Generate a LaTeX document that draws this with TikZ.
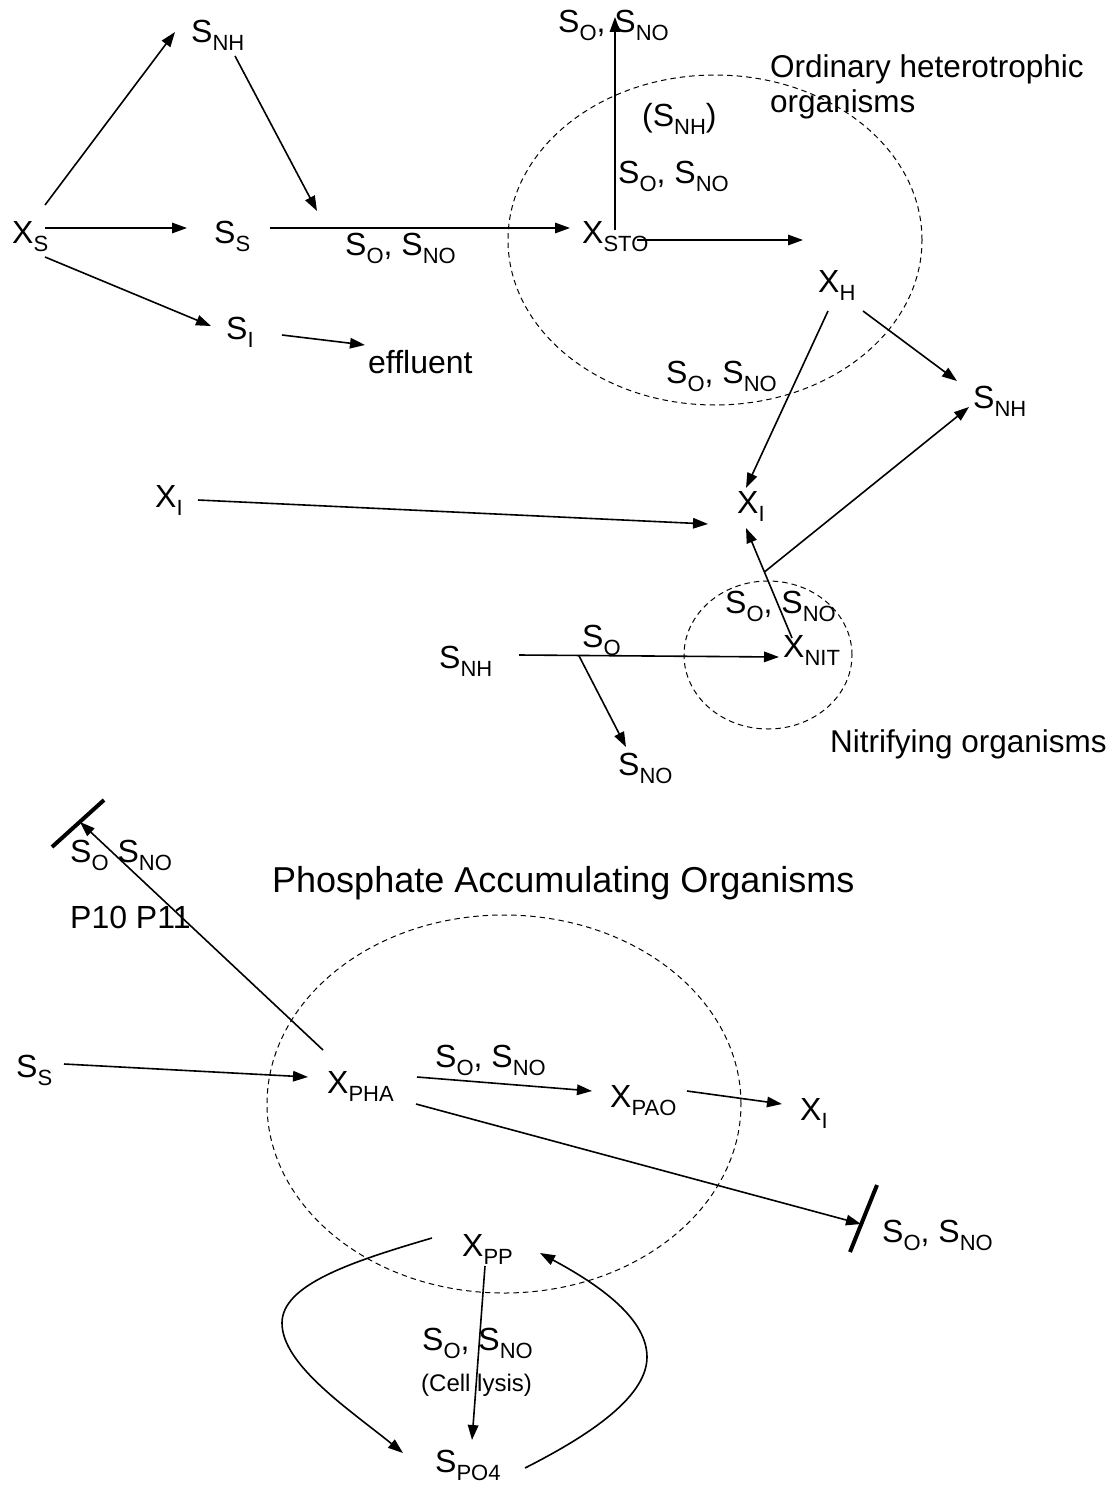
\documentclass[tikz,border=0pt]{standalone}
\usepackage{fontspec}
\setmainfont{Liberation Sans}
\usetikzlibrary{arrows.meta,calc}
\newcommand{\sbx}[1]{\raisebox{-8pt}{\fontsize{22}{22}\selectfont #1}}
\tikzset{
  lab/.style={anchor=base west, inner sep=0pt, font=\fontsize{32}{38}\selectfont},
  biglab/.style={lab, font=\fontsize{31.5}{38}\selectfont},
  arr/.style={line width=1.6pt, -{Triangle[length=15pt,width=10.5pt]}},
  barline/.style={line width=4pt},
  region/.style={line width=1pt, dash pattern=on 5.5pt off 4pt},
}
\begin{document}
\begin{tikzpicture}[x=1pt,y=-1pt]
\path[use as bounding box] (0,0) rectangle (1112,1490);

% ---------- regions ----------
\draw[region] (715,240) ellipse [x radius=207pt, y radius=165pt];
\draw[region] (768,655) ellipse [x radius=84pt, y radius=74pt];
\draw[region] (504,1104) ellipse [x radius=237pt, y radius=189pt];

% ---------- top: heterotrophs ----------
\node[lab] (xs) at (12,243) {X\sbx{S}};
\node[lab] (snh1) at (191,43) {S\sbx{NH}};
\node[lab] (ss1) at (214,243) {S\sbx{S}};
\node[lab] (si) at (226,339) {S\sbx{I}};
\node[lab] (eff) at (368,373) {effluent};
\node[lab] (l1) at (345,255) {S\sbx{O}, S\sbx{NO}};
\node[lab] (xsto) at (582,243) {X\sbx{STO}};
\node[lab] (ltop) at (558,33) {S\sbx{O}, S\sbx{NO}};
\node[lab] (lsnhp) at (642,127) {(S\sbx{NH})};
\node[lab] (lmid) at (618,183) {S\sbx{O}, S\sbx{NO}};
\node[biglab] (ord1) at (770,78) {Ordinary heterotrophic};
\node[biglab] (ord2) at (770,113) {organisms};
\node[lab] (xh) at (818,292) {X\sbx{H}};
\node[lab] (lh) at (666,383) {S\sbx{O}, S\sbx{NO}};
\node[lab] (snh2) at (973,408) {S\sbx{NH}};

\coordinate (ssjoin) at (317,211);
\coordinate (xhin) at (803,240);

\draw[arr] ($(xs.base west)+(33,-38)$) -- ($(snh1.base west)+(-16,-11)$);
\draw[arr] ($(snh1.base west)+(44,13)$) -- (ssjoin);
\draw[arr] ($(xs.base west)+(33,-15)$) -- ($(ss1.base west)+(-27,-15)$);
\draw[arr] ($(ss1.base west)+(56,-15)$) -- ($(xsto.base west)+(-12,-15)$);
\draw[arr] ($(xs.base west)+(33,14)$) -- ($(si.base west)+(-15,-13)$);
\draw[arr] ($(si.base west)+(56,-4)$) -- ($(eff.base west)+(-3,-28)$);
\draw[arr] ($(xsto.base west)+(33,-13)$) -- ($(ltop.base west)+(57,-16)$);
\draw[arr] ($(xsto.base west)+(55,-3)$) -- (xhin);
\draw[arr] ($(xh.base west)+(45,19)$) -- ($(snh2.base west)+(-16,-27)$);

% ---------- middle: nitrifiers ----------
\node[lab] (xi1) at (737,513) {X\sbx{I}};
\node[lab] (xi0) at (155,507) {X\sbx{I}};
\node[lab] (lnit) at (725,613) {S\sbx{O}, S\sbx{NO}};
\node[lab] (xnit) at (783,657) {X\sbx{NIT}};
\node[lab] (snh3) at (439,668) {S\sbx{NH}};
\node[lab] (lso) at (582,647) {S\sbx{O}};
\node[lab] (sno) at (618,775) {S\sbx{NO}};
\node[biglab] (nitr) at (830,752) {Nitrifying organisms};

\draw[arr] ($(xh.base west)+(10,19)$) -- ($(xi1.base west)+(9,-25)$);
\draw[arr] ($(xi0.base west)+(43,-7)$) -- ($(xi1.base west)+(-29,11)$);
\coordinate (nitA) at ($(xnit.base west)+(9,-19)$);
\coordinate (nitB) at ($(xi1.base west)+(9,15)$);
\draw[arr] (nitA) -- (nitB);
\draw[arr] ($(nitA)!0.6!(nitB)$) -- ($(snh2.base west)+(-4,-1)$);
\coordinate (nhA) at ($(snh3.base west)+(80,-13)$);
\coordinate (nhB) at ($(xnit.base west)+(-4,0)$);
\draw[arr] (nhA) -- (nhB);
\draw[arr] ($(nhA)!0.23!(nhB)$) -- ($(sno.base west)+(8,-28)$);

% ---------- bottom: PAO ----------
\node[lab] (lsotl) at (70,862) {S\sbx{O} S\sbx{NO}};
\node[lab] (p1011) at (70,928) {P10 P11};
\node[lab, font=\fontsize{36}{42}\selectfont] (title) at (272,892) {Phosphate Accumulating Organisms};
\node[lab] (ss2) at (16,1077) {S\sbx{S}};
\node[lab] (xpha) at (327,1093) {X\sbx{PHA}};
\node[lab] (lpha) at (435,1067) {S\sbx{O}, S\sbx{NO}};
\node[lab] (xpao) at (610,1107) {X\sbx{PAO}};
\node[lab] (xi2) at (800,1120) {X\sbx{I}};
\node[lab] (lbar) at (882,1242) {S\sbx{O}, S\sbx{NO}};
\node[lab] (xpp) at (462,1256) {X\sbx{PP}};
\node[lab] (lpp) at (422,1350) {S\sbx{O}, S\sbx{NO}};
\node[lab, font=\fontsize{24}{28}\selectfont] (lysis) at (421,1391) {(Cell lysis)};
\node[lab] (spo4) at (435,1472) {S\sbx{PO4}};

\coordinate (barTL) at (80,822);
\coordinate (barR) at (862,1222);
\draw[barline] ($(barTL)+(-28,25)$) -- ($(barTL)+(24,-22)$);
\draw[barline] ($(barR)+(-12,30)$) -- ($(barR)+(15,-37)$);

\draw[arr] ($(xpha.base west)+(-4,-43)$) -- (barTL);
\draw[arr] ($(ss2.base west)+(48,-13)$) -- ($(xpha.base west)+(-19,-16)$);
\draw[arr] ($(xpha.base west)+(90,-16)$) -- ($(xpao.base west)+(-18,-16)$);
\draw[arr] ($(xpao.base west)+(77,-16)$) -- ($(xi2.base west)+(-18,-16)$);
\draw[arr] ($(xpha.base west)+(89,11)$) -- ($(barR)+(-1,2)$);
\draw[arr] ($(xpp.base west)+(23,10)$) -- ($(spo4.base west)+(37,-32)$);
\draw[arr] ($(xpp.base west)+(-30,-18)$) .. controls (350,1262) and (282,1285) .. (282,1323)
   .. controls (282,1365) and (350,1410) .. ($(spo4.base west)+(-32,-19)$);
\draw[arr] ($(spo4.base west)+(90,-4)$) .. controls (580,1440) and (647,1400) .. (647,1357)
   .. controls (647,1315) and (590,1280) .. ($(xpp.base west)+(78,-3)$);
\end{tikzpicture}
\end{document}
